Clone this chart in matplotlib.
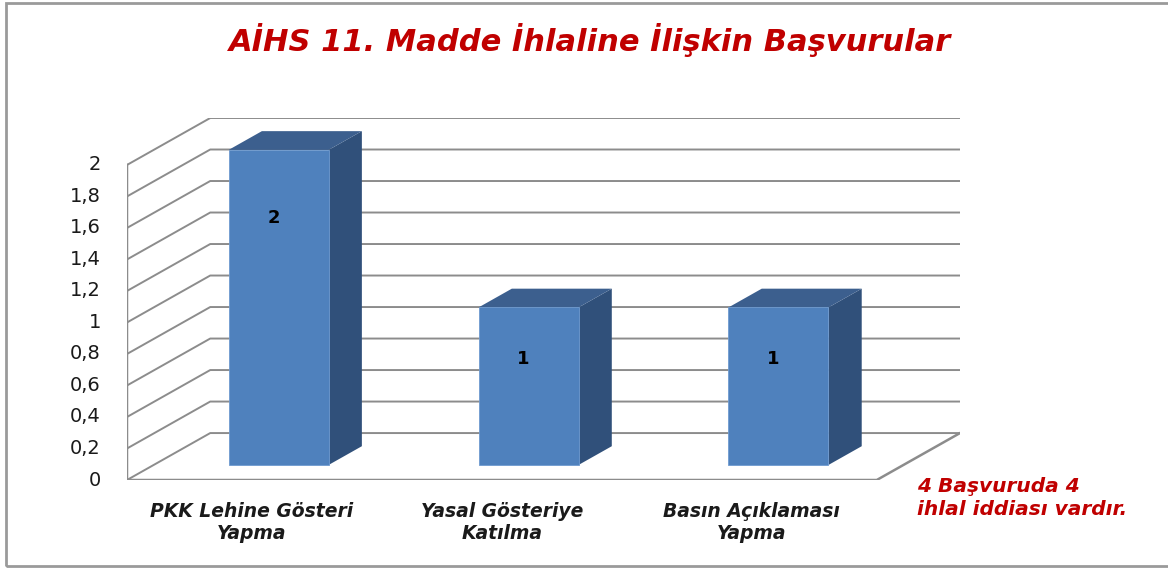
import matplotlib
matplotlib.use('Agg')
import matplotlib.pyplot as plt
from matplotlib.patches import Polygon, Rectangle

plt.rcParams['font.family'] = ['DejaVu Sans']

# data
categories = ['PKK Lehine Gösteri\nYapma', 'Yasal Gösteriye\nKatılma', 'Basın Açıklaması\nYapma']
values = [2, 1, 1]
y_ticks = [0, 0.2, 0.4, 0.6, 0.8, 1, 1.2, 1.4, 1.6, 1.8, 2]
title = 'AİHS 11. Madde İhlaline İlişkin Başvurular'
note = '4 Başvuruda 4\nihlal iddiası vardır.'

W, H = 1168, 569
fig = plt.figure(figsize=(W / 100, H / 100), dpi=100)

# 3d look: depth offset of the back wall, in data units
DX = 0.333
DY = 0.298
F0, F1 = 0.32, 0.72   # front / back of the bars as share of depth
BW = 0.40             # bar width
YMAX = 2

ax = fig.add_axes([127 / W, (H - 480) / H, (960 - 127) / W, (480 - 118) / H])
ax.set_xlim(-0.5, len(categories) - 0.5 + DX)
ax.set_ylim(0, YMAX + DY)
ax.axis('off')

grid_c = '#8c8c8c'
x0 = -0.5
x1 = len(categories) - 0.5
for v in y_ticks:
    ax.plot([x0, x0 + DX, x1 + DX], [v, v + DY, v + DY], color=grid_c, lw=1.4,
            solid_capstyle='butt', zorder=1)
    lbl = str(int(v)) if float(v).is_integer() else f'{v:.1f}'.replace('.', ',')
    ax.annotate(lbl, (x0, v), xytext=(-26, 0), textcoords='offset pixels',
                ha='right', va='center', fontsize=14, color='#1a1a1a')
# front edges
ax.plot([x0, x0, x1, x1 + DX], [YMAX, 0, 0, DY], color=grid_c, lw=1.8, zorder=1)

front_c = '#4f81bd'
top_c = '#3c5f8e'
side_c = '#30507a'
for i, v in enumerate(values):
    xl = i - BW / 2
    xr = i + BW / 2
    fx, fy = F0 * DX, F0 * DY
    bx, by = F1 * DX, F1 * DY
    ax.add_patch(Polygon([(xr + fx, fy), (xr + bx, by), (xr + bx, v + by), (xr + fx, v + fy)],
                         closed=True, facecolor=side_c, edgecolor='none', zorder=3))
    ax.add_patch(Polygon([(xl + fx, v + fy), (xr + fx, v + fy), (xr + bx, v + by), (xl + bx, v + by)],
                         closed=True, facecolor=top_c, edgecolor='none', zorder=3))
    ax.add_patch(Rectangle((xl + fx, fy), BW, v, facecolor=front_c, edgecolor='#6f9bd0',
                           lw=0.6, zorder=4))
    # label sits a bit lower on the tall bar than on the short ones
    ax.text(i + fx - 0.02, v * 0.9 - 0.23 + fy, str(v), ha='center', va='center',
            fontsize=13, fontweight='bold', color='black', zorder=5)
    ax.annotate(categories[i], (i, 0), xytext=(0, -22), textcoords='offset pixels',
                ha='center', va='top', multialignment='center', fontsize=13.5,
                fontweight='bold', fontstyle='italic', color='#1a1a1a', linespacing=1.22)

fig.text(590 / W, 1 - 40 / H, title, ha='center', va='center', fontsize=22,
         fontweight='bold', fontstyle='italic', color='#c00000')
fig.text(917 / W, 1 - 477 / H, note, ha='left', va='top', fontsize=14.5,
         fontweight='bold', fontstyle='italic', color='#c00000', linespacing=1.25)

# chart area border
fig.patches.append(Rectangle((6 / W, 3 / H), 1.1, 563 / H, transform=fig.transFigure,
                             fill=False, edgecolor='#9a9a9a', lw=2))

fig.savefig('out.png', dpi=100)
